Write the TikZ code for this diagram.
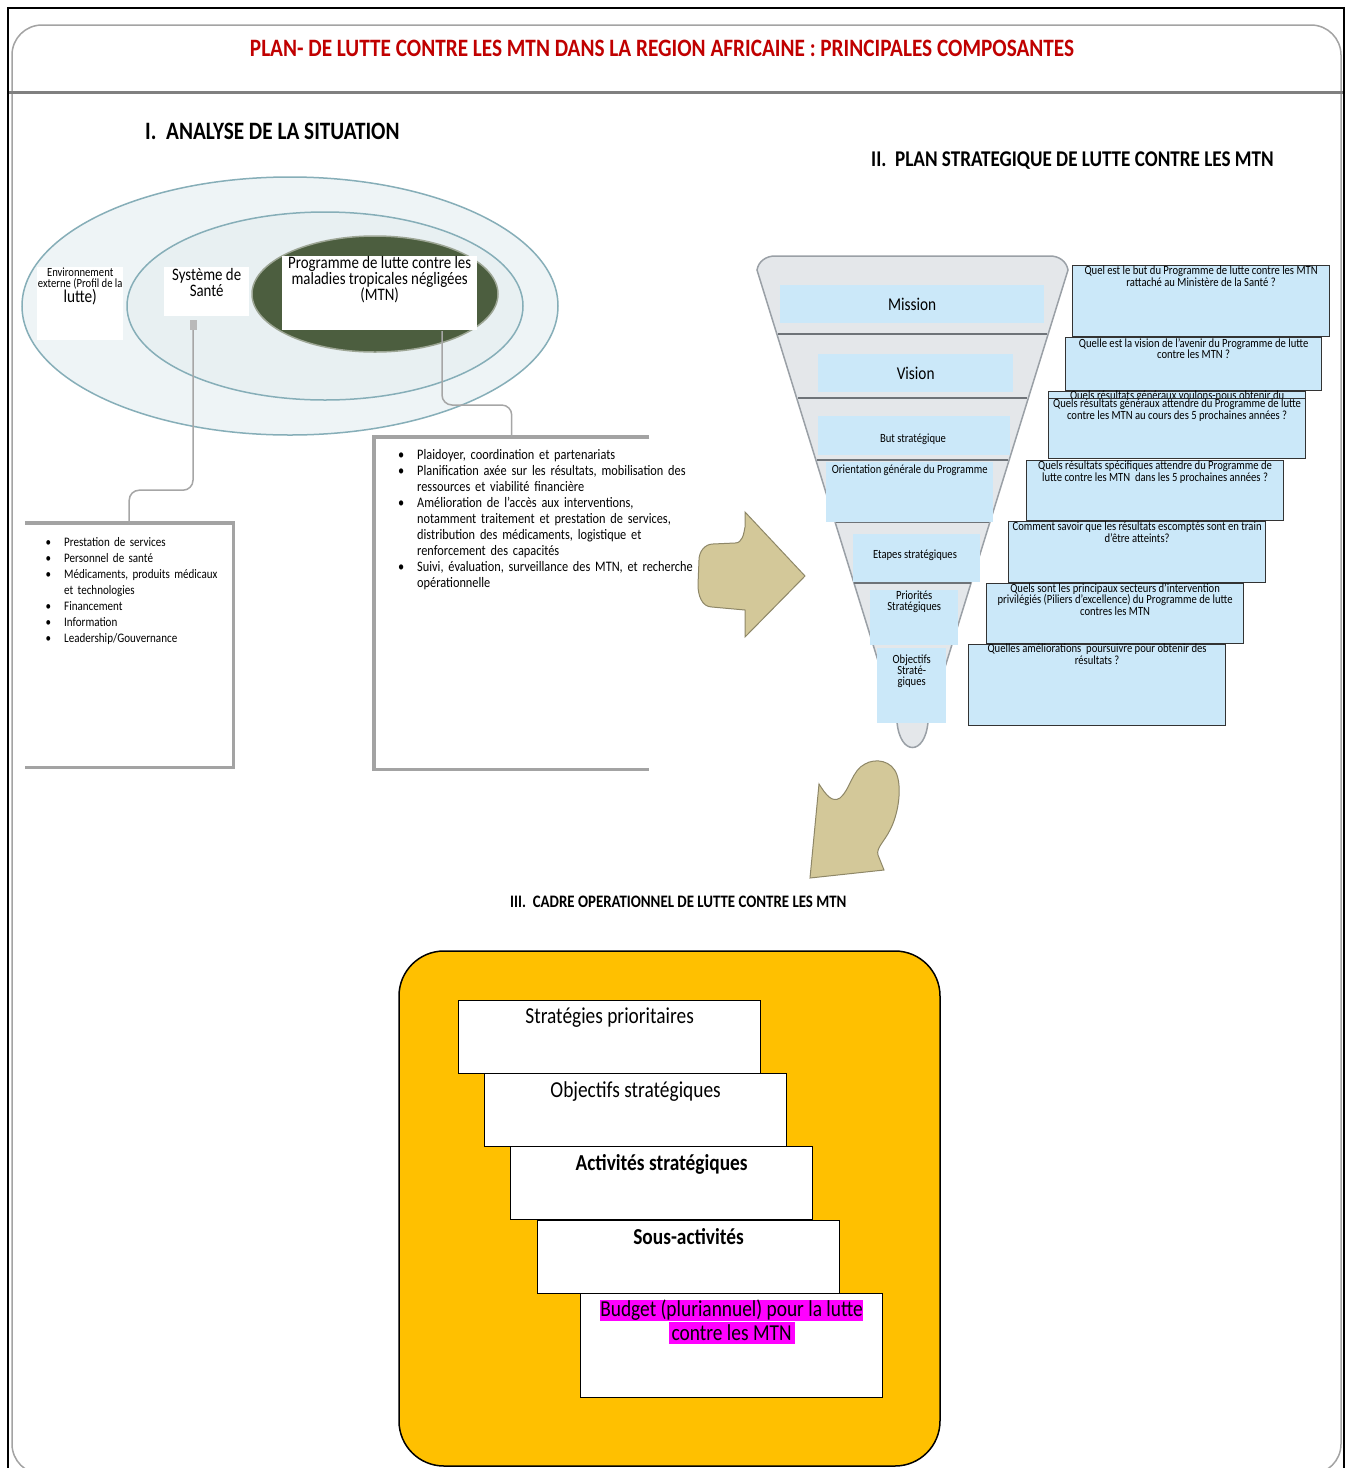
\documentclass[tikz,border=0pt]{standalone}
\usepackage{fontspec}
\setmainfont[FakeStretch=0.85]{Carlito}
\usetikzlibrary{positioning}

\definecolor{titlered}{HTML}{C00000}
\definecolor{ellout}{HTML}{EEF4F6}
\definecolor{ellmid}{HTML}{E8F0F2}
\definecolor{ellline}{HTML}{86AEB8}
\definecolor{prggreen}{HTML}{4C5E3F}
\definecolor{funnelgray}{HTML}{E4E7EA}
\definecolor{funnelline}{HTML}{9AA0A6}
\definecolor{sepgray}{HTML}{6E7378}
\definecolor{skyblue}{HTML}{CBE8F9}
\definecolor{armtan}{HTML}{D3C899}
\definecolor{armline}{HTML}{8E8767}
\definecolor{opyellow}{HTML}{FFC000}
\definecolor{framegray}{HTML}{A3A3A3}
\definecolor{hlmagenta}{HTML}{FF00FF}

\newenvironment{bulletlist}{\begin{list}{\textbullet}{\setlength{\leftmargin}{22pt}\setlength{\labelwidth}{12pt}\setlength{\labelsep}{13pt}\setlength{\itemsep}{0pt}\setlength{\parsep}{0pt}\setlength{\topsep}{0pt}\setlength{\partopsep}{0pt}}}{\end{list}}

\tikzset{
	heading/.style={font=\fontsize{25}{27}\selectfont\bfseries, anchor=west, inner sep=0pt},
	whitebox/.style={fill=white, anchor=north west, inner sep=0pt},
	funnelbox/.style={fill=skyblue, anchor=north west, inner sep=0pt},
	flabel/.style={font=\fontsize{12.5}{11}\selectfont, align=center, inner sep=0pt},
	qbox/.style={draw=black!80, line width=1.2pt, fill=skyblue, anchor=north west, inner sep=0pt, minimum width=257, minimum height=60},
	qtext/.style={font=\fontsize{12.5}{11.5}\selectfont, align=center, inner sep=0pt, anchor=north},
	opbox/.style={draw=black, line width=1.2pt, fill=white, anchor=north west, inner sep=0pt, minimum width=302, minimum height=73},
	optext/.style={font=\fontsize{22.8}{21}\selectfont, align=center, inner sep=0pt, anchor=north},
	conn/.style={draw=gray!70, line width=1.5pt, rounded corners=10},
	boxframe/.style={draw=framegray, line width=3.5pt},
	armshape/.style={fill=armtan, draw=armline, line width=1pt},
}

\begin{document}
\begin{tikzpicture}[x=1pt, y=-1pt]
	\useasboundingbox (0,0) rectangle (1351,1468);
	\fill[white] (0,0) rectangle (1351,1468);
	% cadre general
	\draw[framegray, line width=1.5pt, rounded corners=30] (12,25) rectangle (1341,1474);
	\draw[line width=2pt] (8,1470) -- (8,8) -- (1344,8) -- (1344,1470);
	\draw[gray, line width=3pt] (9,92) -- (1343,92);
	\node[font=\fontsize{25}{27}\selectfont\bfseries, text=titlered] (title) at (662,48) {PLAN- DE LUTTE CONTRE LES MTN DANS LA REGION AFRICAINE : PRINCIPALES COMPOSANTES};

	% I. analyse de la situation
	\node[heading] (h1) at (145,131) {I.\ \ ANALYSE DE LA SITUATION};
	\fill[ellout, draw=ellline, line width=1.5pt] (290,306) ellipse [x radius=268, y radius=129];
	\fill[ellmid, draw=ellline, line width=1.5pt] (325,306) ellipse [x radius=198, y radius=94];
	\fill[prggreen, draw=prggreen!55!white, line width=1.5pt] (375,294) ellipse [x radius=123, y radius=58];
	\node[whitebox, minimum width=86, minimum height=73] (envbox) at (37,267) {};
	\node[font=\fontsize{12.5}{11}\selectfont, align=center, inner sep=0pt, below=1pt of envbox.north] (envtext) {Environnement\\externe (Profil de la\\[-1pt]{\fontsize{18}{13}\selectfont lutte)}};
	\node[whitebox, minimum width=85, minimum height=49] (sysbox) at (164,267) {};
	\node[font=\fontsize{17.5}{16}\selectfont, align=center, inner sep=0pt, below=1pt of sysbox.north] (systext) {Système de\\Santé};
	\node[whitebox, minimum width=195, minimum height=74] (prgbox) at (282,256) {};
	\node[font=\fontsize{17.5}{16}\selectfont, align=center, inner sep=0pt, below=0pt of prgbox.north] (prgtext) {Programme de lutte contre les\\maladies tropicales négligées\\(MTN)};
	\node[fill=gray!55, minimum width=7, minimum height=10, inner sep=0pt] (sq) at (193,325) {};
	\coordinate (pfoot) at (442,331);

	\node[anchor=north west, minimum width=208, minimum height=244, inner sep=0pt] (lbox) at (25,523) {};
	\draw[boxframe] (lbox.north west) -- (lbox.north east) -- (lbox.south east) -- (lbox.south west);
	\node[anchor=north west, text width=190, align=left, inner sep=0pt, font=\fontsize{13}{16}\selectfont] (ltext) at (42,530) {
		\begin{bulletlist}
			\item Prestation de services
			\item Personnel de santé
			\item Médicaments, produits médicaux\\et technologies
			\item Financement
			\item Information
			\item Leadership/Gouvernance
		\end{bulletlist}};
	\node[anchor=north west, minimum width=275, minimum height=332, inner sep=0pt] (rbox) at (374,437) {};
	\draw[boxframe] (rbox.north east) -- (rbox.north west) -- (rbox.south west) -- (rbox.south east);
	\node[anchor=north west, text width=320, align=left, inner sep=0pt, font=\fontsize{14.5}{16}\selectfont] (rtext) at (395,443) {
		\begin{bulletlist}
			\item Plaidoyer, coordination et partenariats
			\item Planification axée sur les résultats, mobilisation des\\ressources et viabilité financière
			\item Amélioration de l’accès aux interventions,\\notamment traitement et prestation de services,\\distribution des médicaments, logistique et\\renforcement des capacités
			\item Suivi, évaluation, surveillance des MTN, et recherche\\opérationnelle
		\end{bulletlist}};
	\draw[conn] (sq.south) -- ++(0,160) -| (lbox.north);
	\draw[conn] (pfoot) -- ++(0,74) -| (rbox.north);

	% fleches
	\draw[armshape] (745,512) -- (805,576) -- (745,637) -- (745,610) -- (712,607) to[out=180,in=-90] (698,585) -- (699,560) to[out=90,in=180] (713,544) -- (735,543) to[out=0,in=-100] (745,527) -- cycle;
	\draw[armshape] (810,878) -- (819,784) .. controls (826,795) and (832,803) .. (840,798) .. controls (850,790) and (852,770) .. (865,764) .. controls (875,758) and (892,760) .. (897,775) .. controls (902,790) and (898,815) .. (890,830) .. controls (884,842) and (876,848) .. (878,855) -- (884,870) -- cycle;

	% II. plan strategique
	\node[heading, font=\fontsize{22.5}{24}\selectfont\bfseries] (h2) at (871,161) {II.\ \ PLAN STRATEGIQUE DE LUTTE CONTRE LES MTN};
	\draw[fill=funnelgray, draw=funnelline, line width=1.5pt] (775,256) -- (1050,256) to[out=0,in=100] (1068,270) -- (928,722) .. controls (925,756) and (900,756) .. (897,722) -- (757,270) to[out=80,in=180] (775,256) -- cycle;
	\foreach \yy in {334,398,460,522,583,643}
		\draw[sepgray, line width=1.5pt] ({757+(\yy-265)/457*140},\yy) -- ({1068-(\yy-265)/457*140},\yy);
	\node[funnelbox, minimum width=264, minimum height=38] (mission) at (780,285) {};
	\node[font=\fontsize{18}{16}\selectfont, inner sep=0pt] (missiontext) at (mission.center) {Mission};
	\node[funnelbox, minimum width=195, minimum height=38] (vision) at (818,354) {};
	\node[font=\fontsize{18}{16}\selectfont, inner sep=0pt] (visiontext) at (vision.center) {Vision};
	\node[funnelbox, minimum width=192, minimum height=39] (but) at (818,416) {};
	\node[flabel] (buttext) at (913,439) {But stratégique};
	\node[funnelbox, minimum width=167, minimum height=60] (orient) at (826,462) {};
	\node[flabel, below=3pt of orient.north] (orienttext) {Orientation générale du Programme};
	\node[funnelbox, minimum width=127, minimum height=48] (etapes) at (853,534) {};
	\node[flabel] (etapestext) at (915,555) {Etapes stratégiques};
	\node[funnelbox, minimum width=88, minimum height=55] (prio) at (870,590) {};
	\node[flabel, below=1pt of prio.north] (priotext) {Priorités\\Stratégiques};
	\node[funnelbox, minimum width=69, minimum height=75] (obj) at (877,648) {};
	\node[flabel, below=7pt of obj.north] (objtext) {Objectifs\\Straté-\\giques};

	\node[qbox, minimum height=71] (q1) at (1072,265) {};
	\node[qtext, below=1pt of q1.north] (q1text) {Quel est le but du Programme de lutte contre les MTN\\rattaché au Ministère de la Santé ?};
	\node[qbox, minimum width=256, minimum height=53] (q2) at (1065,337) {};
	\node[qtext, below=1pt of q2.north] (q2text) {Quelle est la vision de l’avenir du Programme de lutte\\contre les MTN ?};
	\node[qbox, minimum height=20] (q3a) at (1048,391) {};
	\node[qtext, below=0pt of q3a.north] (q3atext) {Quels résultats généraux voulons-nous obtenir du};
	\node[qbox] (q3) at (1048,398) {};
	\node[qtext, below=1pt of q3.north] (q3text) {Quels résultats généraux attendre du Programme de lutte\\contre les MTN au cours des 5 prochaines années ?};
	\node[qbox] (q4) at (1026,460) {};
	\node[qtext, below=1pt of q4.north] (q4text) {Quels résultats spécifiques attendre du Programme de\\lutte contre les MTN\ \ dans les 5 prochaines années ?};
	\node[qbox, minimum height=61] (q5) at (1008,521) {};
	\node[qtext, below=1pt of q5.north] (q5text) {Comment savoir que les résultats escomptés sont en train\\d’être atteints?};
	\node[qbox] (q6) at (986,583) {};
	\node[qtext, below=0pt of q6.north] (q6text) {Quels sont les principaux secteurs d’intervention\\privilégiés (Piliers d’excellence) du Programme de lutte\\contres les MTN};
	\node[qbox, minimum height=81] (q7) at (968,644) {};
	\node[qtext, below=0pt of q7.north] (q7text) {Quelles améliorations\ \ poursuivre pour obtenir des\\résultats ?};

	% III. cadre operationnel
	\node[heading, font=\fontsize{17.5}{19}\selectfont\bfseries] (h3) at (510,902) {III.\ \ CADRE OPERATIONNEL DE LUTTE CONTRE LES MTN};
	\draw[fill=opyellow, line width=1.5pt, rounded corners=45] (399,951) rectangle (940,1466);
	\node[opbox] (op1) at (458,1000) {};
	\node[optext, below=8pt of op1.north] (op1text) {Stratégies prioritaires};
	\node[opbox] (op2) at (484,1073) {};
	\node[optext, below=8pt of op2.north] (op2text) {Objectifs stratégiques};
	\node[opbox] (op3) at (510,1146) {};
	\node[optext, below=8pt of op3.north, font=\fontsize{22.8}{21}\selectfont\bfseries] (op3text) {Activités stratégiques};
	\node[opbox] (op4) at (537,1220) {};
	\node[optext, below=8pt of op4.north, font=\fontsize{22.8}{21}\selectfont\bfseries] (op4text) {Sous-activités};
	\node[opbox, minimum height=104] (op5) at (580,1293) {};
	\node[optext, below=7pt of op5.north] (op5text) {\setlength{\fboxsep}{0pt}\colorbox{hlmagenta}{Budget (pluriannuel) pour la lutte}\\\colorbox{hlmagenta}{contre les MTN}};
\end{tikzpicture}
\end{document}
